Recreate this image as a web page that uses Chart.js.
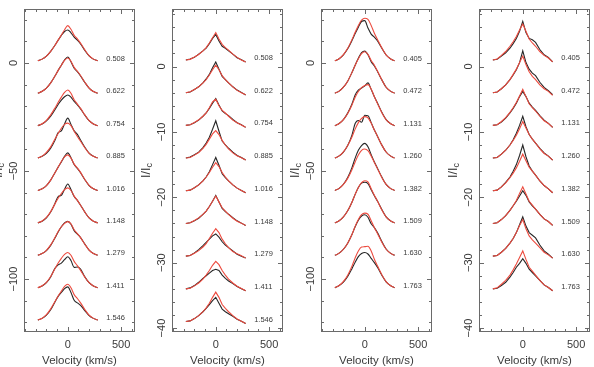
<!DOCTYPE html>
<html>
<head>
<meta charset="utf-8">
<script src="https://cdn.jsdelivr.net/npm/chart.js@4/dist/chart.umd.min.js"></script>
<style>
  body { margin: 0; background: #fff; width: 594px; height: 367px; overflow: hidden; position: relative; }
  canvas { position: absolute; top: 0; }
</style>
</head>
<body>
<canvas id="pA"></canvas>
<canvas id="pB"></canvas>
<canvas id="pC"></canvas>
<canvas id="pD"></canvas>
<script>
// velocity grid (km/s) shared by every profile
const velocity = [-280, -240, -200, -160, -120, -90, -60, -30, 0, 30, 60, 90, 120, 160, 200, 240, 280];

const phasesAB = ['0.508', '0.622', '0.754', '0.885', '1.016', '1.148', '1.279', '1.411', '1.546'];
const phasesCD = ['0.405', '0.472', '1.131', '1.260', '1.382', '1.509', '1.630', '1.763'];

// vertical shift applied to each profile
const offsetsA = [0, -15, -30, -45, -60, -75, -90, -105, -120];
const offsetsB = [0, -5, -10, -15, -20, -25, -30, -35, -40];
const offsetsC = [0, -15, -30, -45, -60, -75, -90, -105];
const offsetsD = [0, -5, -10, -15, -20, -25, -30, -35];

const CONTINUUM = 1;

// emission above the continuum, observed (black) and model (red)
const blackA = [
  [0, 0.8, 2.2, 4.4, 7.2, 9.6, 11.8, 13.6, 14.3, 13.0, 11.0, 9.6, 7.8, 4.8, 2.3, 0.8, 0],
  [0, 0.9, 2.4, 4.8, 8.0, 10.6, 13.0, 15.4, 16.8, 14.6, 11.6, 10.0, 8.0, 5.0, 2.4, 0.8, 0],
  [0, 0.8, 2.2, 4.4, 7.4, 9.8, 11.8, 13.4, 14.2, 13.2, 11.2, 9.6, 7.8, 4.9, 2.3, 0.8, 0],
  [0, 0.8, 2.2, 4.6, 8.2, 11.8, 12.6, 15.8, 18.5, 15.6, 12.6, 11.0, 8.4, 5.0, 2.3, 0.8, 0],
  [0, 0.8, 2.3, 4.8, 8.2, 10.8, 13.2, 15.8, 17.4, 15.2, 12.0, 10.2, 8.2, 5.0, 2.3, 0.8, 0],
  [0, 0.8, 2.3, 5.0, 9.0, 12.2, 12.8, 15.6, 18.0, 15.4, 12.2, 10.4, 8.2, 5.0, 2.3, 0.8, 0],
  [0, 0.8, 2.2, 4.6, 8.0, 10.8, 13.2, 15.0, 15.7, 14.4, 11.4, 9.8, 8.2, 5.2, 2.4, 0.8, 0],
  [0, 0.8, 2.3, 5.0, 9.0, 10.6, 11.4, 13.0, 14.3, 12.6, 9.4, 9.6, 8.6, 5.0, 2.3, 0.8, 0],
  [0, 0.8, 2.3, 4.8, 8.4, 11.0, 12.8, 14.6, 15.4, 12.8, 9.2, 8.0, 6.8, 4.4, 2.1, 0.8, 0]
];
const redA = [
  [0, 0.8, 2.2, 4.4, 7.2, 9.6, 12.0, 14.4, 16.3, 14.6, 11.8, 10.2, 8.2, 5.1, 2.4, 0.8, 0],
  [0, 0.9, 2.4, 4.8, 8.0, 10.6, 13.0, 15.2, 16.3, 14.8, 12.0, 10.2, 8.2, 5.1, 2.4, 0.8, 0],
  [0, 0.9, 2.5, 5.0, 8.2, 10.8, 13.2, 15.4, 16.5, 15.0, 12.0, 10.0, 8.0, 5.0, 2.3, 0.8, 0],
  [0, 0.9, 2.6, 5.2, 8.8, 11.4, 13.8, 15.6, 16.2, 15.0, 12.4, 10.0, 7.8, 4.8, 2.2, 0.8, 0],
  [0, 0.8, 2.3, 4.8, 8.2, 10.8, 13.4, 15.6, 16.5, 15.0, 12.2, 10.4, 8.4, 5.1, 2.4, 0.8, 0],
  [0, 0.9, 2.5, 5.2, 8.8, 11.4, 13.6, 15.4, 16.2, 15.0, 12.4, 10.4, 8.2, 5.0, 2.3, 0.8, 0],
  [0, 0.8, 2.3, 4.8, 8.2, 11.0, 13.2, 14.8, 15.6, 14.6, 11.8, 10.0, 8.2, 5.1, 2.4, 0.8, 0],
  [0, 0.9, 2.5, 5.2, 8.8, 11.4, 13.6, 15.4, 16.3, 15.0, 12.2, 10.2, 8.0, 4.9, 2.3, 0.8, 0],
  [0, 0.9, 2.5, 5.2, 8.6, 11.2, 13.4, 15.6, 16.6, 15.0, 11.8, 10.0, 8.0, 4.9, 2.3, 0.8, 0]
];

const blackB = [
  [0, 0.15, 0.4, 0.9, 1.4, 1.8, 2.5, 3.3, 3.9, 2.9, 2.1, 1.8, 1.4, 0.9, 0.35, 0.05, -0.3],
  [0, 0.1, 0.5, 0.9, 1.5, 2.1, 2.8, 3.8, 4.7, 3.6, 2.5, 2.0, 1.5, 0.9, 0.4, 0.05, -0.35],
  [0, 0.1, 0.4, 0.8, 1.4, 1.9, 2.6, 3.4, 4.1, 3.1, 2.2, 1.8, 1.5, 0.9, 0.4, 0.1, -0.3],
  [0, 0.15, 0.5, 0.9, 1.6, 2.3, 3.2, 4.4, 5.7, 4.1, 2.6, 2.0, 1.5, 0.9, 0.4, 0.1, -0.3],
  [0, 0.1, 0.45, 0.9, 1.5, 2.1, 2.9, 4.0, 5.1, 3.9, 2.6, 2.0, 1.5, 0.9, 0.4, 0.05, -0.3],
  [0, 0.1, 0.4, 0.8, 1.4, 1.9, 2.6, 3.4, 4.3, 3.3, 2.3, 1.8, 1.4, 0.9, 0.4, 0.05, -0.3],
  [0, 0.1, 0.5, 1.0, 1.6, 2.1, 2.6, 3.1, 3.4, 2.9, 2.2, 1.7, 1.3, 0.8, 0.3, 0.0, -0.3],
  [0, 0.15, 0.5, 1.0, 1.6, 2.0, 2.4, 2.8, 3.0, 2.8, 2.1, 1.6, 1.2, 0.8, 0.35, 0.0, -0.3],
  [0, 0.1, 0.45, 0.9, 1.5, 2.0, 2.6, 3.2, 3.7, 2.8, 1.9, 1.5, 1.2, 0.8, 0.35, 0.05, -0.3]
];
const redB = [
  [0, 0.1, 0.45, 0.85, 1.4, 1.9, 2.6, 3.4, 4.2, 3.2, 2.4, 1.9, 1.5, 0.9, 0.4, 0, -0.3],
  [0, 0.15, 0.5, 0.9, 1.5, 2.0, 2.7, 3.5, 4.2, 3.5, 2.6, 2.0, 1.5, 0.9, 0.35, 0, -0.3],
  [0, 0.1, 0.45, 0.85, 1.4, 1.9, 2.7, 3.6, 4.0, 3.0, 2.3, 1.9, 1.4, 0.8, 0.4, 0.05, -0.3],
  [0, 0.1, 0.45, 0.85, 1.5, 2.1, 2.9, 3.7, 4.2, 3.6, 2.7, 2.0, 1.4, 0.8, 0.35, 0.05, -0.3],
  [0, 0.1, 0.45, 0.9, 1.5, 2.1, 2.8, 3.6, 4.3, 3.7, 2.8, 2.1, 1.5, 0.9, 0.4, 0.05, -0.3],
  [0, 0.1, 0.45, 0.85, 1.4, 1.9, 2.6, 3.4, 4.2, 3.3, 2.4, 1.9, 1.4, 0.8, 0.35, 0.05, -0.3],
  [0, 0.1, 0.45, 0.85, 1.4, 1.9, 2.7, 3.5, 4.2, 3.6, 2.6, 1.9, 1.3, 0.7, 0.35, 0.05, -0.3],
  [0, 0.1, 0.45, 0.9, 1.5, 2.1, 2.8, 3.6, 4.2, 3.7, 2.8, 2.1, 1.5, 0.9, 0.4, 0.05, -0.3],
  [0, 0.1, 0.45, 0.9, 1.5, 2.1, 2.8, 3.7, 4.5, 3.7, 2.6, 2.0, 1.5, 0.9, 0.4, 0.05, -0.3]
];

const blackC = [
  [0, 1.0, 2.8, 5.6, 9.4, 12.6, 15.6, 18.2, 18.6, 15.2, 12.4, 11.0, 9.2, 5.8, 2.7, 1.0, 0],
  [0, 1.0, 2.8, 5.6, 9.6, 13.0, 16.2, 18.8, 19.5, 17.8, 14.6, 12.6, 10.0, 6.2, 2.8, 1.0, 0],
  [0, 1.0, 2.8, 5.8, 10.0, 14.2, 16.4, 17.4, 18.4, 19.8, 16.8, 13.4, 10.4, 6.2, 2.8, 1.0, 0],
  [0, 1.0, 2.8, 5.8, 10.6, 16.0, 17.4, 16.6, 19.8, 19.6, 16.4, 13.0, 10.0, 6.0, 2.8, 1.0, 0],
  [0, 1.0, 2.9, 6.0, 10.6, 15.0, 18.6, 20.8, 21.8, 20.2, 16.6, 13.2, 10.2, 6.2, 2.8, 1.0, 0],
  [0, 1.0, 2.8, 5.6, 9.6, 13.2, 16.4, 18.4, 18.8, 18.2, 15.4, 12.6, 10.0, 6.2, 2.8, 1.0, 0],
  [0, 1.0, 2.8, 5.6, 9.6, 13.2, 16.2, 18.2, 18.8, 17.6, 14.6, 12.8, 10.4, 6.4, 2.9, 1.0, 0],
  [0, 1.0, 2.6, 5.2, 8.8, 11.8, 14.4, 15.8, 16.3, 15.6, 13.6, 11.6, 9.4, 5.8, 2.7, 1.0, 0]
];
const redC = [
  [0, 1.0, 2.9, 5.8, 9.8, 13.2, 16.4, 18.8, 19.7, 19.2, 16.4, 12.8, 9.8, 6.0, 2.8, 1.0, 0],
  [0, 1.0, 2.8, 5.6, 9.6, 13.0, 16.0, 18.4, 19.2, 18.0, 15.2, 13.0, 10.2, 6.2, 2.8, 1.0, 0],
  [0, 1.0, 2.8, 5.6, 9.6, 13.2, 15.8, 17.6, 18.6, 19.0, 17.0, 13.4, 10.2, 6.0, 2.8, 1.0, 0],
  [0, 1.0, 2.9, 5.8, 9.8, 13.4, 16.4, 18.4, 19.2, 18.6, 16.2, 13.0, 10.0, 6.0, 2.8, 1.0, 0],
  [0, 1.0, 2.8, 5.6, 9.6, 13.2, 16.4, 18.6, 19.2, 18.4, 16.0, 13.0, 10.0, 6.0, 2.8, 1.0, 0],
  [0, 1.0, 2.8, 5.6, 9.6, 13.2, 16.4, 18.6, 19.5, 19.0, 15.8, 12.8, 10.0, 6.0, 2.8, 1.0, 0],
  [0, 1.0, 2.8, 5.6, 9.6, 13.4, 16.6, 18.8, 19.5, 19.0, 16.0, 12.8, 10.0, 6.0, 2.8, 1.0, 0],
  [0, 1.0, 2.9, 5.8, 10.0, 13.8, 17.0, 18.8, 19.0, 19.2, 17.0, 13.2, 10.0, 6.0, 2.8, 1.0, 0]
];

const blackD = [
  [0, 0.1, 0.6, 1.1, 1.8, 2.5, 3.3, 4.4, 5.9, 4.2, 3.3, 3.1, 2.7, 1.6, 0.8, 0.4, -0.3],
  [0, 0.1, 0.6, 1.2, 2.0, 2.7, 3.5, 4.6, 6.4, 4.6, 3.6, 3.0, 2.6, 1.6, 0.8, 0.3, -0.3],
  [0, 0.1, 0.5, 1.1, 1.9, 2.6, 3.4, 4.4, 5.2, 4.4, 3.4, 2.8, 2.3, 1.5, 0.8, 0.3, -0.3],
  [0, 0.1, 0.6, 1.2, 2.0, 2.8, 3.8, 5.0, 6.4, 4.8, 3.6, 2.9, 2.3, 1.5, 0.8, 0.3, -0.3],
  [0, 0.1, 0.6, 1.3, 2.1, 3.0, 4.0, 5.4, 7.0, 5.2, 3.8, 3.0, 2.4, 1.5, 0.8, 0.3, -0.3],
  [0, 0.1, 0.6, 1.2, 2.0, 2.7, 3.4, 4.2, 5.0, 4.3, 3.3, 2.7, 2.2, 1.4, 0.7, 0.3, -0.3],
  [0, 0.1, 0.6, 1.2, 2.0, 2.7, 3.6, 4.8, 6.0, 4.6, 3.6, 3.2, 2.8, 1.7, 0.8, 0.3, -0.3],
  [0, 0.1, 0.5, 1.0, 1.8, 2.5, 3.3, 3.9, 4.6, 3.9, 3.0, 2.5, 2.0, 1.3, 0.6, 0.2, -0.3]
];
const redD = [
  [0, 0.15, 0.7, 1.3, 2.1, 2.8, 3.6, 4.6, 5.5, 4.4, 3.2, 2.6, 2.1, 1.3, 0.7, 0.3, -0.3],
  [0, 0.1, 0.6, 1.2, 2.0, 2.8, 3.6, 4.6, 5.6, 4.3, 3.2, 2.5, 2.0, 1.2, 0.6, 0.2, -0.4],
  [0, 0.1, 0.6, 1.2, 2.0, 2.7, 3.5, 4.5, 5.5, 4.4, 3.3, 2.7, 2.2, 1.4, 0.7, 0.3, -0.3],
  [0, 0.1, 0.6, 1.2, 2.0, 2.7, 3.5, 4.5, 5.6, 4.6, 3.6, 2.9, 2.3, 1.4, 0.7, 0.3, -0.3],
  [0, 0.1, 0.6, 1.2, 2.0, 2.7, 3.5, 4.5, 5.6, 4.6, 3.6, 3.0, 2.4, 1.5, 0.8, 0.3, -0.3],
  [0, 0.1, 0.6, 1.2, 2.0, 2.7, 3.5, 4.6, 5.6, 4.5, 3.4, 2.8, 2.2, 1.4, 0.7, 0.3, -0.3],
  [0, 0.1, 0.6, 1.2, 2.0, 2.7, 3.6, 4.7, 5.6, 4.2, 3.1, 2.5, 2.0, 1.3, 0.6, 0.2, -0.3],
  [0, 0.15, 0.7, 1.3, 2.1, 2.9, 3.8, 4.8, 5.8, 4.5, 3.3, 2.7, 2.1, 1.3, 0.6, 0.2, -0.3]
];

const FONT = "'Liberation Sans', Arial, Helvetica, sans-serif";
const TEXT = '#3a3a3a';
const FRAME = '#6a6a6a';
const BLACK = '#262626';
const RED = '#ec4a3e';

const panels = [
  { id: 'pA', boxLeft: 24,  yMin: -124.5, yMax: 25,  major: 50, minor: 10, black: blackA, red: redA, phases: phasesAB, offsets: offsetsA, smooth: true },
  { id: 'pB', boxLeft: 172, yMin: -40.6,  yMax: 8.8, major: 10, minor: 2,  black: blackB, red: redB, phases: phasesAB, offsets: offsetsB, smooth: false },
  { id: 'pC', boxLeft: 321, yMin: -124.5, yMax: 25,  major: 50, minor: 10, black: blackC, red: redC, phases: phasesCD, offsets: offsetsC, smooth: true },
  { id: 'pD', boxLeft: 479, yMin: -40.6,  yMax: 8.8, major: 10, minor: 2,  black: blackD, red: redD, phases: phasesCD, offsets: offsetsD, smooth: false }
];

const X_MIN = -410, X_MAX = 630;
const LEFT_SPACE = 45;
const BOX_W = 111;

function fmt(v) {
  return (v < 0 ? '\u2212' : '') + Math.abs(v);
}

// round-number ticks inside a scale's range
function stepTicks(scale, step) {
  const out = [];
  for (let k = Math.ceil(scale.min / step); k <= Math.floor(scale.max / step); k++) {
    out.push({ value: k * step });
  }
  scale.ticks = out;
}

// frame, inward ticks, rotated y labels, y title and phase labels
const framePlugin = {
  id: 'frame',
  afterDraw(chart, args, opts) {
    const p = opts.panel;
    const { ctx, chartArea: a } = chart;
    const x = chart.scales.x, y = chart.scales.y;
    const L = Math.round(a.left) + 0.5, R = Math.round(a.right) - 0.5;
    const T = Math.round(a.top) + 0.5, B = Math.round(a.bottom) - 0.5;
    ctx.save();
    ctx.strokeStyle = FRAME;
    ctx.lineWidth = 1;
    ctx.strokeRect(L, T, R - L, B - T);

    ctx.beginPath();
    for (let k = Math.ceil(x.min / 100); k <= Math.floor(x.max / 100); k++) {
      const v = k * 100;
      const px = Math.round(x.getPixelForValue(v)) + 0.5;
      const len = v % 500 === 0 ? 4.5 : 2.5;
      ctx.moveTo(px, B); ctx.lineTo(px, B - len);
      ctx.moveTo(px, T); ctx.lineTo(px, T + len);
    }
    for (let k = Math.ceil(y.min / p.minor); k <= Math.floor(y.max / p.minor); k++) {
      const v = k * p.minor;
      const py = Math.round(y.getPixelForValue(v)) + 0.5;
      const len = v % p.major === 0 ? 4.5 : 2.5;
      ctx.moveTo(L, py); ctx.lineTo(L + len, py);
      ctx.moveTo(R, py); ctx.lineTo(R - len, py);
    }
    ctx.stroke();

    // y tick labels, rotated
    ctx.fillStyle = TEXT;
    ctx.font = '11px ' + FONT;
    ctx.textAlign = 'center';
    ctx.textBaseline = 'middle';
    y.ticks.forEach(t => {
      const py = y.getPixelForValue(t.value);
      ctx.save();
      ctx.translate(a.left - 10.5, py);
      ctx.rotate(-Math.PI / 2);
      ctx.fillText(fmt(t.value), 0, 0);
      ctx.restore();
    });

    // y title I/Ic
    ctx.save();
    ctx.translate(a.left - 25.5, (a.top + a.bottom) / 2);
    ctx.rotate(-Math.PI / 2);
    ctx.font = '12.5px ' + FONT;
    const main = 'I/I';
    const w1 = ctx.measureText(main).width;
    ctx.font = '9px ' + FONT;
    const w2 = ctx.measureText('c').width;
    const start = -(w1 + w2) / 2;
    ctx.textAlign = 'left';
    ctx.font = '12.5px ' + FONT;
    ctx.fillText(main, start, 0);
    ctx.font = '9px ' + FONT;
    ctx.fillText('c', start + w1, 3);
    ctx.restore();

    // phase labels beside each profile
    ctx.font = '7.5px ' + FONT;
    ctx.textAlign = 'left';
    p.phases.forEach((ph, i) => {
      const py = y.getPixelForValue(CONTINUUM + p.offsets[i]) - 2;
      ctx.fillText(ph, x.getPixelForValue(360), py);
    });
    ctx.restore();
  }
};

panels.forEach(p => {
  const cv = document.getElementById(p.id);
  cv.width = LEFT_SPACE + BOX_W + 4;
  cv.height = 367;
  cv.style.left = (p.boxLeft - LEFT_SPACE) + 'px';

  const datasets = [];
  p.black.forEach((prof, i) => {
    datasets.push({
      data: velocity.map((v, j) => ({ x: v, y: CONTINUUM + p.red[i][j] + p.offsets[i] })),
      borderColor: RED,
      order: 0
    });
    datasets.push({
      data: velocity.map((v, j) => ({ x: v, y: CONTINUUM + prof[j] + p.offsets[i] })),
      borderColor: BLACK,
      order: 1
    });
  });

  new Chart(cv, {
    type: 'line',
    data: { datasets },
    options: {
      responsive: false,
      animation: false,
      devicePixelRatio: 1,
      layout: { padding: { top: 9, right: 4, left: 0, bottom: 0 } },
      elements: {
        point: { radius: 0 },
        line: {
          borderWidth: 1.1,
          tension: p.smooth ? 0.4 : 0,
          cubicInterpolationMode: p.smooth ? 'monotone' : 'default'
        }
      },
      plugins: {
        legend: { display: false },
        tooltip: { enabled: false },
        frame: { panel: p }
      },
      scales: {
        x: {
          type: 'linear',
          min: X_MIN,
          max: X_MAX,
          grid: { display: false, drawTicks: false },
          border: { display: false },
          afterBuildTicks: s => stepTicks(s, 500),
          ticks: {
            padding: 6,
            color: TEXT,
            font: { family: FONT, size: 11 },
            maxRotation: 0,
            callback: v => fmt(v)
          },
          title: {
            display: true,
            text: 'Velocity (km/s)',
            color: TEXT,
            font: { family: FONT, size: 11.5, lineHeight: 1 },
            padding: { top: 0, bottom: 0 }
          },
          afterFit: s => { s.height = 35; s.paddingLeft = 0; s.paddingRight = 0; }
        },
        y: {
          type: 'linear',
          min: p.yMin,
          max: p.yMax,
          grid: { display: false, drawTicks: false },
          border: { display: false },
          afterBuildTicks: s => stepTicks(s, p.major),
          ticks: { display: false },
          afterFit: s => { s.width = LEFT_SPACE; }
        }
      }
    },
    plugins: [framePlugin]
  });
});
</script>
</body>
</html>
